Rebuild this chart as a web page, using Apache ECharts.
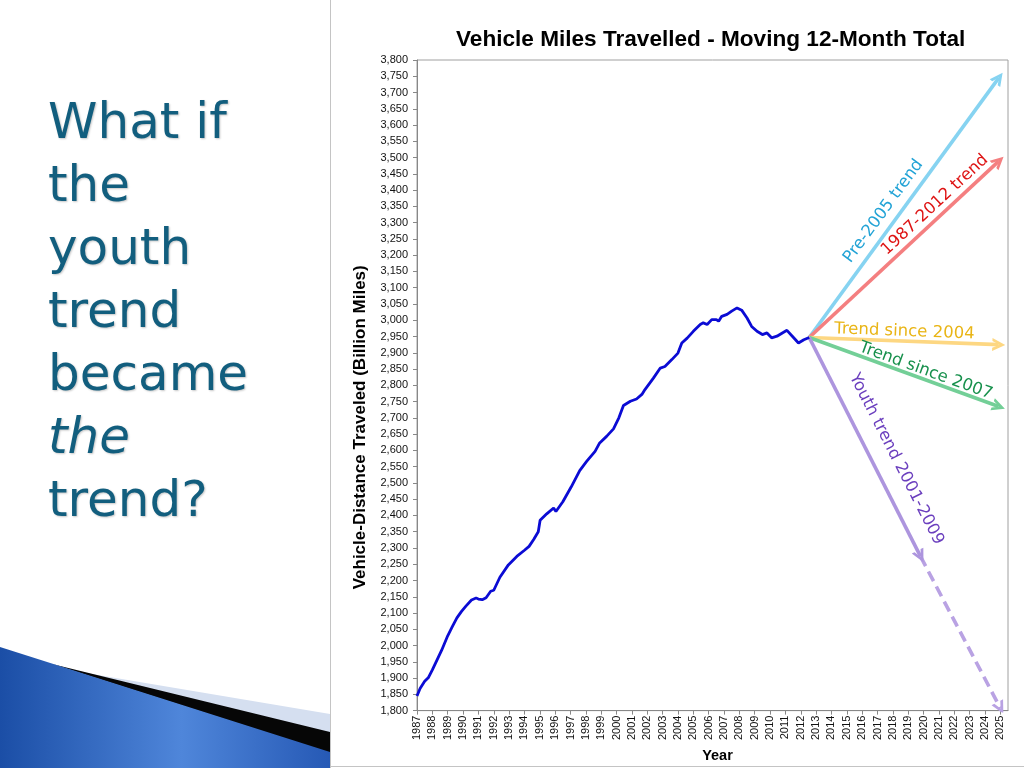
<!DOCTYPE html>
<html>
<head>
<meta charset="utf-8">
<style>
  html, body { margin: 0; padding: 0; background: #ffffff; }
  #chart { width: 1024px; height: 768px; }
</style>
<script src="https://cdn.jsdelivr.net/npm/echarts@6/dist/echarts.min.js"></script>
</head>
<body>
<div id="chart"></div>
<script>
// ---- Data ----
const years = [1987.0,1987.2,1987.5,1987.75,1988.0,1988.3,1988.6,1989.0,1989.3,1989.6,1989.9,1990.2,1990.55,1990.85,1991.0,1991.25,1991.5,1991.8,1992.0,1992.4,1992.95,1993.5,1994.0,1994.3,1994.6,1994.9,1995.02,1995.45,1995.9,1996.05,1996.5,1997.05,1997.6,1998.05,1998.6,1998.9,1999.35,1999.8,2000.15,2000.45,2000.9,2001.3,2001.65,2001.85,2002.4,2002.85,2003.15,2003.6,2004.0,2004.25,2004.6,2005.0,2005.45,2005.65,2005.9,2006.2,2006.5,2006.65,2006.85,2007.2,2007.5,2007.85,2008.15,2008.5,2008.8,2009.15,2009.5,2009.8,2010.1,2010.45,2010.8,2011.1,2011.45,2011.85,2012.2,2012.55];
const vmt = [1845,1868,1890,1902,1925,1955,1985,2030,2058,2085,2105,2122,2140,2146,2143,2141,2147,2167,2170,2210,2248,2274,2293,2305,2326,2350,2385,2405,2423,2412,2442,2488,2538,2566,2597,2623,2643,2666,2700,2738,2751,2758,2772,2787,2822,2853,2858,2879,2899,2930,2945,2966,2987,2992,2987,3002,3002,2997,3012,3018,3028,3038,3031,3007,2981,2966,2956,2961,2946,2951,2961,2969,2951,2930,2940,2947];

const trendStart = [2012.55, 2947];
const trendNames = ['Pre-2005 trend', '1987-2012 trend', 'Trend since 2004', 'Trend since 2007', 'Youth trend 2001-2009'];
const trendEnds = [[2024.9, 3745], [2024.9, 3489], [2024.9, 2925], [2024.9, 2735], [2019.8, 2274]];
const youthExtensionEnd = [2025.0, 1808];

const yMin = 1800, yMax = 3800, yStep = 50;
const xMin = 1987, xMax = 2025.5;

const titleText = 'Vehicle Miles Travelled - Moving 12-Month Total';
const yAxisName = 'Vehicle-Distance Traveled (Billion Miles)';
const xAxisName = 'Year';
const headingLines = ['What if', 'the', 'youth', 'trend', 'became', 'the', 'trend?'];

// ---- Styles ----
const trendLineColors = ['#86d3f1', '#f47f80', '#fdd782', '#73cf97', '#ad95de'];
const trendTextColors = ['#22a3d6', '#de1414', '#e9b516', '#17904c', '#6b3fbe'];
const trendLabelPos = ['insideMiddleTop', 'insideEndTop', 'insideMiddleTop', 'insideMiddleTop', 'insideMiddleTop'];
const trendLabelDist = [6, 3, 1, 0, 14];
const trendLabelPad = [[0, 30, 0, 0], [0, 4, 0, 0], [0, 0, 0, 0], [0, 0, 0, 40], [0, 0, 0, 50]];
const chevron = 'path://M0,10 L5,0 L10,10 L7.6,10 L5,4.6 L2.4,10 Z';

const seriesList = [{
  type: 'line',
  name: 'VMT',
  data: years.map((y, i) => [y, vmt[i]]),
  showSymbol: false,
  symbol: 'none',
  lineStyle: { color: '#0b0bd4', width: 2.8 },
  z: 5
}];

trendNames.forEach((nm, i) => {
  seriesList.push({
    type: 'lines',
    name: nm,
    coordinateSystem: 'cartesian2d',
    polyline: false,
    symbol: ['none', chevron],
    symbolSize: [20, 13],
    lineStyle: { color: trendLineColors[i], width: 3.6, opacity: 1, type: 'solid' },
    label: {
      show: true,
      position: trendLabelPos[i],
      formatter: nm,
      color: trendTextColors[i],
      fontFamily: 'DejaVu Sans',
      fontSize: 16.5,
      distance: trendLabelDist[i],
      padding: trendLabelPad[i]
    },
    data: [{ coords: [trendStart, trendEnds[i]] }],
    z: 4
  });
});

seriesList.push({
  type: 'lines',
  name: 'Youth trend extension',
  coordinateSystem: 'cartesian2d',
  symbol: ['none', chevron],
  symbolSize: [20, 13],
  lineStyle: { color: '#b9a2e3', width: 3.6, opacity: 1, type: [11, 6] },
  data: [{ coords: [trendEnds[4], youthExtensionEnd] }],
  z: 3
});

const blueGrad = new echarts.graphic.LinearGradient(0, 0, 1, 0, [
  { offset: 0, color: '#1b4ea6' },
  { offset: 0.55, color: '#4f86da' },
  { offset: 1, color: '#2659b5' }
]);

const headingElements = headingLines.map((t, i) => ({
  type: 'text',
  left: 48,
  top: 100 + i * 63,
  style: {
    text: t,
    fill: '#125e7e',
    font: (i === 5 ? 'italic ' : '') + '50px "DejaVu Sans"',
    textShadowColor: 'rgba(0,0,0,0.22)',
    textShadowBlur: 2,
    textShadowOffsetX: 1,
    textShadowOffsetY: 1
  }
}));

const option = {
  animation: false,
  backgroundColor: '#ffffff',
  title: {
    text: titleText,
    left: 451,
    top: 23,
    textStyle: { fontFamily: 'Liberation Sans', fontWeight: 'bold', fontSize: 22.6, color: '#000' }
  },
  grid: {
    left: 417, top: 60, right: 16, bottom: 57,
    show: true, borderColor: '#a0a0a0', borderWidth: 1, backgroundColor: 'transparent'
  },
  xAxis: {
    type: 'value',
    min: xMin, max: xMax, interval: 1,
    name: xAxisName,
    nameLocation: 'middle',
    nameGap: 30,
    nameTextStyle: { fontFamily: 'Liberation Sans', fontWeight: 'bold', fontSize: 14.5, color: '#000', padding: [0, 0, 0, 10] },
    axisLine: { show: true, onZero: false, lineStyle: { color: '#888', width: 1 } },
    axisTick: { show: true, length: 4, lineStyle: { color: '#888' } },
    axisLabel: {
      rotate: 90, margin: 5, fontFamily: 'Liberation Sans', fontSize: 11, color: '#111',
      showMaxLabel: false,
      formatter: v => (Number.isInteger(v) ? String(v) : '')
    },
    splitLine: { show: false }
  },
  yAxis: {
    type: 'value',
    min: yMin, max: yMax, interval: yStep,
    name: yAxisName,
    nameLocation: 'middle',
    nameGap: 48,
    nameTextStyle: { fontFamily: 'Liberation Sans', fontWeight: 'bold', fontSize: 17, color: '#000', padding: [0, 84, 0, 0] },
    axisLine: { show: true, lineStyle: { color: '#888', width: 1 } },
    axisTick: { show: true, length: 4, lineStyle: { color: '#888' } },
    axisLabel: {
      margin: 9, fontFamily: 'Liberation Sans', fontSize: 11, color: '#111',
      formatter: v => v.toLocaleString('en-US')
    },
    splitLine: { show: false }
  },
  graphic: [
    { type: 'line', shape: { x1: 330.5, y1: 0, x2: 330.5, y2: 768 }, style: { stroke: '#c4c4c4', lineWidth: 1 }, z: 1 },
    { type: 'line', shape: { x1: 330, y1: 766.5, x2: 1024, y2: 766.5 }, style: { stroke: '#c4c4c4', lineWidth: 1 }, z: 1 },
    { type: 'polygon', shape: { points: [[80, 672], [330, 714], [330, 733]] }, style: { fill: '#d5dff0' }, z: 1 },
    { type: 'polygon', shape: { points: [[52, 664], [330, 732], [330, 753]] }, style: { fill: '#060606' }, z: 2 },
    { type: 'polygon', shape: { points: [[0, 647], [330, 752], [330, 768], [0, 768]] }, style: { fill: blueGrad }, z: 3 }
  ].concat(headingElements),
  series: seriesList
};

const chart = echarts.init(document.getElementById('chart'), null, { renderer: 'canvas' });
chart.setOption(option);
</script>
</body>
</html>
